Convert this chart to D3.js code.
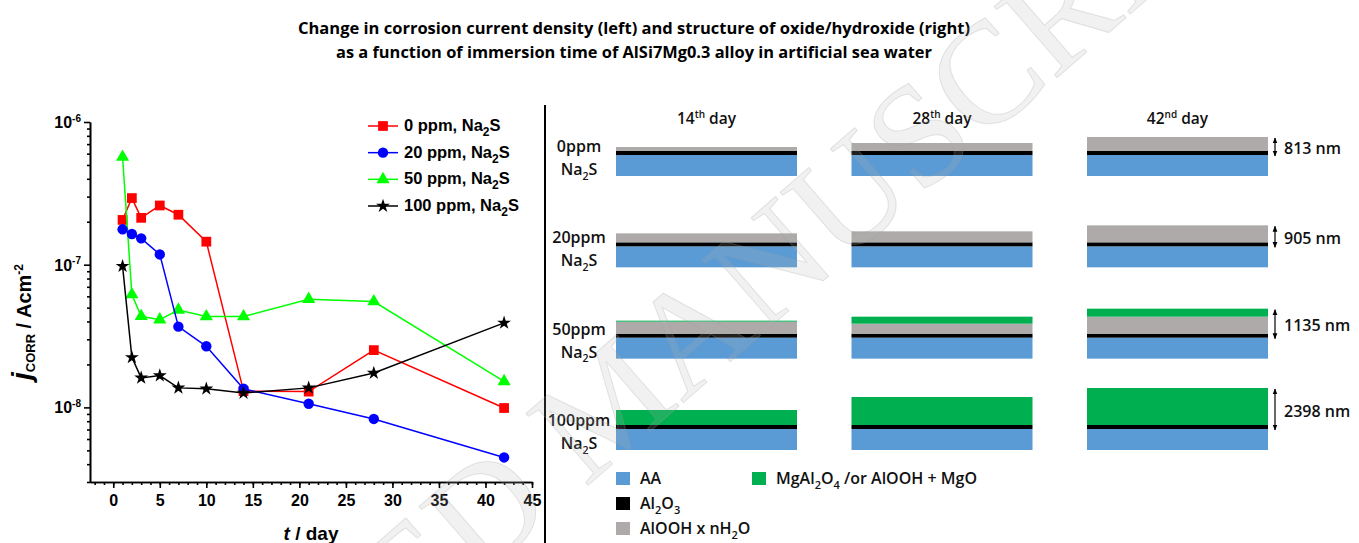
<!DOCTYPE html>
<html>
<head>
<meta charset="utf-8">
<script src="https://cdn.jsdelivr.net/npm/d3@7"></script>
<style>
	body { margin:0; background:#fff; }
	svg { display:block; }
</style>
</head>
<body>
<script>
// left chart data: corrosion current density vs immersion time
const days = [1, 2, 3, 5, 7, 10, 14, 21, 28, 42]
const j0 = [2.06e-7, 2.93e-7, 2.13e-7, 2.60e-7, 2.24e-7, 1.45e-7, 1.30e-8, 1.29e-8, 2.52e-8, 9.9e-9]
const j20 = [1.77e-7, 1.64e-7, 1.53e-7, 1.18e-7, 3.68e-8, 2.68e-8, 1.35e-8, 1.06e-8, 8.3e-9, 4.46e-9]
const j50 = [5.68e-7, 6.18e-8, 4.35e-8, 4.12e-8, 4.82e-8, 4.33e-8, 4.33e-8, 5.73e-8, 5.52e-8, 1.52e-8]
const j100 = [9.76e-8, 2.24e-8, 1.61e-8, 1.67e-8, 1.37e-8, 1.35e-8, 1.26e-8, 1.37e-8, 1.74e-8, 3.91e-8]
const seriesNames = ['0 ppm', '20 ppm', '50 ppm', '100 ppm']
const xTicks = [0, 5, 10, 15, 20, 25, 30, 35, 40, 45]
const yTicks = [1e-8, 1e-7, 1e-6]

// right panel data: schematic layer build-up
const dayNum = ['14', '28', '42']
const daySup = ['th', 'th', 'nd']
const rowNames = ['0ppm', '20ppm', '50ppm', '100ppm']
const greyThk = [[4, 8, 14], [9, 11, 17], [12, 10, 17], [0, 0, 0]]
const greenThk = [[0, 0, 0], [0, 0, 0], [1, 7, 8], [15, 28, 37]]
const thickLabels = ['813 nm', '905 nm', '1135 nm', '2398 nm']

const W = 1359, H = 543
const svg = d3.select('body').append('svg').attr('width', W).attr('height', H)

const ARIAL = 'Liberation Sans, Arial, sans-serif'
const CAL = 'Open Sans, Noto Sans, sans-serif'

// parts: [text, 0 normal | 1 sub | -1 sup]
const rich = (txt, parts, size, small) => {
	let shift = 0
	parts.forEach(p => {
		const want = p[1] == 1 ? size * 0.3 : p[1] == -1 ? -size * 0.4 : 0
		txt.append('tspan')
			.attr('dy', want - shift)
			.attr('font-size', p[1] == 0 ? size : small)
			.text(p[0])
		shift = want
	})
}

// ---- title
const title = [
	'Change in corrosion current density (left) and structure of oxide/hydroxide (right)',
	'as a function of immersion time of AlSi7Mg0.3 alloy in artificial sea water'
]
const titleLen = [672, 596]
svg.selectAll('.title').data(title).enter().append('text')
	.classed('title', true)
	.attr('x', 634).attr('y', (d, i) => 34 + i * 24)
	.attr('text-anchor', 'middle')
	.attr('font-family', CAL).attr('font-weight', 700).attr('font-size', 15.5)
	.attr('textLength', (d, i) => titleLen[i]).attr('lengthAdjust', 'spacingAndGlyphs')
	.text(d => d)

// ---- left chart
const x = d3.scaleLinear().domain([-2.5, 45]).range([90, 532])
const y = d3.scaleLog().domain([3e-9, 1e-6]).range([482, 122])

const gx = svg.append('g').attr('transform', 'translate(0,482)')
gx.call(d3.axisBottom(x).tickValues(d3.range(-2, 46, 1)).tickSize(3).tickSizeOuter(0).tickFormat(''))
gx.append('g').call(d3.axisBottom(x).tickValues(xTicks).tickSize(6).tickPadding(7).tickSizeOuter(0))
gx.selectAll('text').attr('font-family', ARIAL).attr('font-weight', 'bold').attr('font-size', 16).attr('fill', '#000')

const minors = []
;[1e-9, 1e-8, 1e-7].forEach(b => d3.range(2, 10).forEach(k => {
	const v = k * b
	if (v >= 3e-9 && v < 1e-6) minors.push(v)
}))
const gy = svg.append('g').attr('transform', 'translate(90,0)')
gy.call(d3.axisLeft(y).tickValues(minors).tickSize(3).tickSizeOuter(0).tickFormat(''))
gy.append('g').call(d3.axisLeft(y).tickValues(yTicks).tickSize(6).tickSizeOuter(0).tickFormat(''))
svg.selectAll('.domain, .tick line').attr('stroke', '#000').attr('stroke-width', 1.6)

gy.selectAll('.ylab').data(yTicks).enter().append('text')
	.classed('ylab', true)
	.attr('x', -9).attr('y', d => y(d) + 6)
	.attr('text-anchor', 'end')
	.attr('fill', '#000')
	.attr('font-family', ARIAL).attr('font-weight', 'bold')
	.each(function (d) {
		rich(d3.select(this), [['10', 0], [String(Math.round(Math.log10(d))), -1]], 16, 10)
	})

// axis titles
const ylab = svg.append('text')
	.attr('transform', 'translate(31,322) rotate(-90)')
	.attr('text-anchor', 'middle')
	.attr('font-family', ARIAL).attr('font-weight', 'bold')
ylab.append('tspan').attr('font-style', 'italic').attr('font-size', 28).text('j')
ylab.append('tspan').attr('font-size', 13).attr('dy', 4).text('CORR')
ylab.append('tspan').attr('font-size', 20).attr('dy', -4).text(' / Acm')
ylab.append('tspan').attr('font-size', 12).attr('dy', -8).text('-2')

const xlab = svg.append('text')
	.attr('x', 311).attr('y', 540)
	.attr('text-anchor', 'middle')
	.attr('font-family', ARIAL).attr('font-weight', 'bold').attr('font-size', 19)
xlab.append('tspan').attr('font-style', 'italic').text('t')
xlab.append('tspan').text(' / day')

// series
const series = [
	{ name: seriesNames[0], vals: j0, col: '#ff0000', sym: d3.symbolSquare, size: 95 },
	{ name: seriesNames[2], vals: j50, col: '#00ff00', sym: d3.symbolTriangle, size: 75 },
	{ name: seriesNames[1], vals: j20, col: '#0000ff', sym: d3.symbolCircle, size: 85 },
	{ name: seriesNames[3], vals: j100, col: '#000000', sym: d3.symbolStar, size: 60 }
]
const line = d3.line().x(d => x(d[0])).y(d => y(d[1]))

const sg = svg.selectAll('.series').data(series).enter().append('g').classed('series', true)
sg.append('path')
	.attr('d', s => line(days.map((d, i) => [d, s.vals[i]])))
	.attr('fill', 'none').attr('stroke', s => s.col).attr('stroke-width', 1.5)
sg.selectAll('.pt').data(s => days.map((d, i) => ({ d, v: s.vals[i], s }))).enter().append('path')
	.classed('pt', true)
	.attr('transform', p => `translate(${x(p.d)},${y(p.v)})`)
	.attr('d', p => d3.symbol(p.s.sym, p.s.size)())
	.attr('fill', p => p.s.col)

// legend (in legend order)
const legOrder = [series[0], series[2], series[1], series[3]]
const legY = d3.scalePoint().domain(legOrder.map(s => s.name)).range([126, 206])
const lg = svg.selectAll('.leg').data(legOrder).enter().append('g')
	.classed('leg', true)
	.attr('transform', s => `translate(368,${legY(s.name)})`)
lg.append('line').attr('x1', 0).attr('x2', 30).attr('stroke', s => s.col).attr('stroke-width', 1.5)
lg.append('path').attr('transform', 'translate(15,0)')
	.attr('d', s => d3.symbol(s.sym, s.size)()).attr('fill', s => s.col)
lg.append('text')
	.attr('x', 36).attr('y', 5)
	.attr('font-family', ARIAL).attr('font-weight', 'bold')
	.each(function (s) {
		rich(d3.select(this), [[s.name + ', Na', 0], ['2', 1], ['S', 0]], 16.5, 12)
	})

// divider
svg.append('line').attr('x1', 545).attr('x2', 545).attr('y1', 105).attr('y2', H)
	.attr('stroke', '#000').attr('stroke-width', 2)

// ---- right panel
const BLUE = '#5b9bd5', GREY = '#aeaaaa', GREEN = '#00b050'
const colX = d3.scalePoint().domain(dayNum).range([616, 1087])
const rowY = d3.scalePoint().domain(rowNames).range([176, 450])
const cw = 181, blueH = 21, blackH = 4

svg.selectAll('.dayhead').data(dayNum).enter().append('text')
	.classed('dayhead', true)
	.attr('x', d => colX(d) + cw / 2).attr('y', 124)
	.attr('text-anchor', 'middle')
	.attr('font-family', CAL).attr('font-weight', 600).attr('fill', '#111')
	.each(function (d, i) {
		rich(d3.select(this), [[d, 0], [daySup[i], -1], [' day', 0]], 15.5, 10)
	})

const cells = []
rowNames.forEach((r, ri) => dayNum.forEach((c, ci) => {
	cells.push({ r, c, grey: greyThk[ri][ci], green: greenThk[ri][ci] })
}))
const cg = svg.selectAll('.cell').data(cells).enter().append('g')
	.classed('cell', true)
	.attr('transform', d => `translate(${colX(d.c)},${rowY(d.r)})`)
cg.append('rect').attr('y', -blueH).attr('width', cw).attr('height', blueH).attr('fill', BLUE)
cg.append('rect').attr('y', -blueH - blackH).attr('width', cw).attr('height', blackH).attr('fill', '#000')
cg.append('rect').attr('y', d => -blueH - blackH - d.grey).attr('width', cw).attr('height', d => d.grey).attr('fill', GREY)
cg.append('rect').attr('y', d => -blueH - blackH - d.grey - d.green).attr('width', cw)
	.attr('height', d => d.green).attr('fill', GREEN)

// row labels
const rl = svg.selectAll('.rowlab').data(rowNames).enter().append('g')
	.classed('rowlab', true)
	.attr('transform', d => `translate(579,${rowY(d)})`)
	.attr('font-family', CAL).attr('font-weight', 600).attr('fill', '#111')
	.attr('text-anchor', 'middle')
rl.append('text').attr('y', -24).attr('font-size', 16).text(d => d)
rl.append('text').attr('y', -1)
	.each(function () { rich(d3.select(this), [['Na', 0], ['2', 1], ['S', 0]], 16, 10.5) })

// thickness arrows on the last day
const defs = svg.append('defs')
defs.append('marker').attr('id', 'ah').attr('viewBox', '0 0 10 10')
	.attr('refX', 9).attr('refY', 5).attr('markerWidth', 5).attr('markerHeight', 5)
	.attr('orient', 'auto-start-reverse')
	.append('path').attr('d', 'M0,1L10,5L0,9Z').attr('fill', '#000')
const last = dayNum[dayNum.length - 1]
const ann = cells.filter(d => d.c == last)
const ag = svg.selectAll('.ann').data(ann).enter().append('g')
	.classed('ann', true)
	.attr('transform', d => `translate(${colX(last) + cw + 7},${rowY(d.r)})`)
ag.append('line')
	.attr('y1', d => -blueH - blackH - d.grey - d.green + 1).attr('y2', -blueH + 1)
	.attr('stroke', '#000').attr('stroke-width', 1.2)
	.attr('marker-start', 'url(#ah)').attr('marker-end', 'url(#ah)')
ag.append('text')
	.attr('x', 9).attr('y', d => (-blueH - blackH - d.grey - d.green - blueH) / 2 + 8)
	.attr('font-family', CAL).attr('font-weight', 600).attr('font-size', 16).attr('fill', '#111')
	.text((d, i) => thickLabels[i])

// right legend
const legItems = [
	{ parts: [['AA', 0]], col: BLUE },
	{ parts: [['Al', 0], ['2', 1], ['O', 0], ['3', 1]], col: '#000' },
	{ parts: [['AlOOH x nH', 0], ['2', 1], ['O', 0]], col: GREY },
	{ parts: [['MgAl', 0], ['2', 1], ['O', 0], ['4', 1], [' /or AlOOH + MgO', 0]], col: GREEN }
]
const rlg = svg.selectAll('.rleg').data(legItems).enter().append('g')
	.classed('rleg', true)
	.attr('transform', (d, i) => i < 3 ? `translate(616,${472 + i * 25})` : 'translate(752,472)')
rlg.append('rect').attr('width', 14).attr('height', 13).attr('fill', d => d.col)
rlg.append('text').attr('x', 24).attr('y', 12)
	.attr('font-family', CAL).attr('font-weight', 600).attr('fill', '#111')
	.each(function (d) { rich(d3.select(this), d.parts, 16, 11) })

// watermark
const wm = svg.append('g').attr('transform', 'translate(585,488) rotate(-41)')
	.attr('font-family', 'Liberation Serif, Times New Roman, serif').attr('font-size', 145)
	.attr('fill', '#b0b0b0').attr('fill-opacity', 0.18)
	.attr('stroke', '#a0a0a0').attr('stroke-opacity', 0.25).attr('stroke-width', 1)
wm.append('text').attr('x', -37).attr('text-anchor', 'end').text('ACCEPTED')
wm.append('text').attr('x', 0).text('MANUSCRIPT')
</script>
</body>
</html>
